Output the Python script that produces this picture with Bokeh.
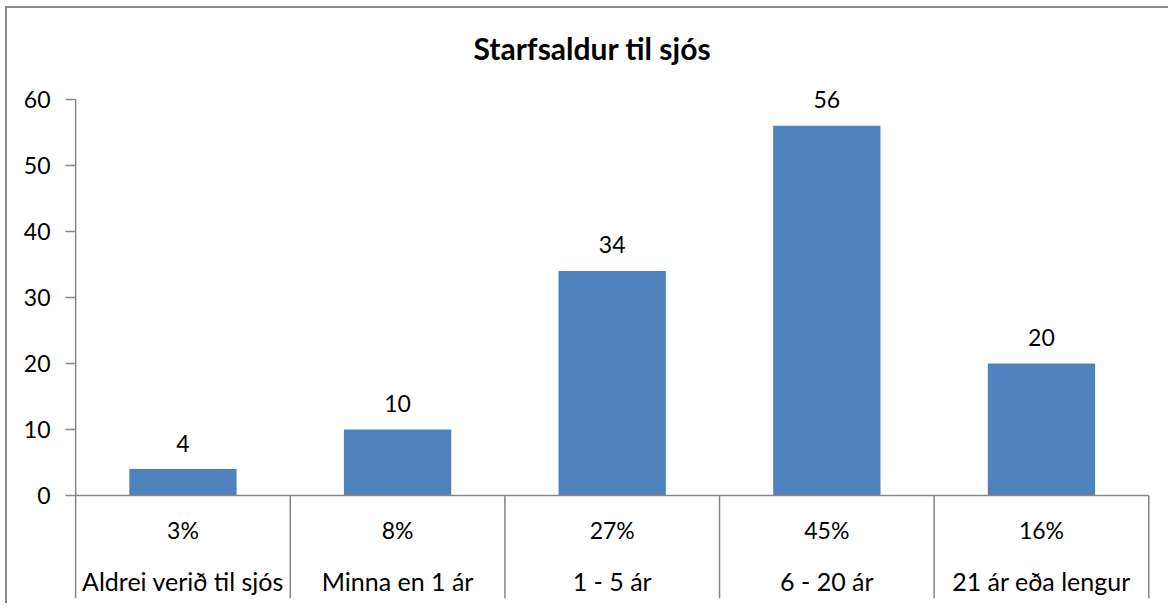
from bokeh.plotting import figure
from bokeh.models import (ColumnDataSource, LabelSet, Range1d, FixedTicker, LinearAxis)
from bokeh.core.properties import value
from bokeh.embed import file_html
from bokeh.resources import INLINE

# ---- data ----
categories = ["Aldrei verið til sjós", "Minna en 1 ár", "1 - 5 ár", "6 - 20 ár", "21 ár eða lengur"]
counts = [4, 10, 34, 56, 20]
percents = ["3%", "8%", "27%", "45%", "16%"]
y_ticks = [0, 10, 20, 30, 40, 50, 60]
title_text = "Starfsaldur til sjós"

# ---- styles ----
FONT = "Lato"
BAR = "#4F81BD"
GRID = "#868686"
Y_TOP = 63.0
Y_BOTTOM = -15.6   # table area below the zero line (layout)
PCT_ROW = -5.3
LBL_ROW = -12.9
X_LEFT = -0.01

xs = [i + 0.5 for i in range(len(categories))]
src = ColumnDataSource(dict(x=xs, top=counts, lab=[str(c) for c in counts],
                            pct=percents, cat=categories,
                            pct_y=[PCT_ROW] * len(xs), lbl_y=[LBL_ROW] * len(xs)))

PXU = 6.6  # px per unit on y
frame_h = int(round((Y_TOP - Y_BOTTOM) * PXU))
top_gap = int(round((Y_TOP - 60) * PXU))

p = figure(frame_width=1086, frame_height=frame_h,
           min_border_left=66, min_border_right=9, min_border_top=91 - top_gap, min_border_bottom=5,
           x_range=Range1d(X_LEFT, 5.05), y_range=Range1d(Y_BOTTOM, Y_TOP),
           output_backend="svg", toolbar_location=None,
           x_axis_location=None, y_axis_location=None,
           styles={"margin-left": "5px", "margin-top": "6px",
                   "border-left": "2px solid #898989", "border-top": "2px solid #898989"})
p.outline_line_color = None
p.xgrid.visible = False
p.ygrid.visible = False
p.background_fill_color = "white"
p.border_fill_color = "white"

# title
p.title.text = title_text
p.title.align = "left"
p.title.offset = 400
p.title.text_font = FONT
p.title.text_font_style = "bold"
p.title.text_font_size = "30px"
p.title.text_color = "black"
p.title.standoff = 28

# y axis (line drawn as a glyph so it stops at 60)
ax = LinearAxis(ticker=FixedTicker(ticks=y_ticks))
ax.axis_line_color = None
ax.major_tick_line_color = GRID
ax.major_tick_line_width = 1.5
ax.major_tick_out = 8
ax.major_tick_in = 2
ax.minor_tick_line_color = None
ax.major_label_text_font = FONT
ax.major_label_text_font_size = "23px"
ax.major_label_text_color = "black"
ax.major_label_standoff = 15
p.add_layout(ax, "left")

n = len(categories)
p.segment(x0=[0], y0=[60], x1=[0], y1=[Y_BOTTOM], line_color=GRID, line_width=1.5)

# bars
p.vbar(x="x", top="top", bottom=0, width=0.5, source=src, fill_color=BAR, line_color=None)

# zero line and table separators
p.segment(x0=[0], y0=[0], x1=[n], y1=[0], line_color=GRID, line_width=1.5)
p.segment(x0=list(range(1, n + 1)), y0=[0] * n, x1=list(range(1, n + 1)), y1=[Y_BOTTOM] * n,
          line_color=GRID, line_width=1.5)

# data labels
labels = LabelSet(x="x", y="top", text="lab", source=src, y_offset=26,
                  text_align="center", text_baseline="middle",
                  text_font=value(FONT), text_font_size="23px", text_color="black")
p.add_layout(labels)

# table rows
p.text(x="x", y="pct_y", text="pct", source=src, text_align="center", text_baseline="middle",
       text_font=value(FONT), text_font_size="23px", text_color="black")
p.text(x="x", y="lbl_y", text="cat", source=src, text_align="center", text_baseline="middle",
       text_font=value(FONT), text_font_size="25px", text_color="black")

open("out.html", "w").write(file_html(p, INLINE))
